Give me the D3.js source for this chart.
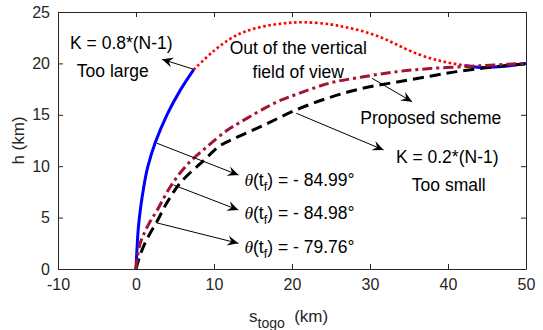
<!DOCTYPE html>
<html>
<head>
<meta charset="utf-8">
<script src="https://cdn.jsdelivr.net/npm/d3@7"></script>
<style>
  body { margin: 0; background: #fff; }
  text { font-family: "Liberation Sans", Arial, sans-serif; }
</style>
</head>
<body>
<svg id="chart" width="543" height="330"></svg>
<script>
// K = 0.8*(N-1) trajectory (s in km, h in km)
const largeS = [0, 0.1, 0.3, 0.6, 1.0, 1.5, 2.47, 3.97, 5.68, 7.4, 9.95, 12.1, 14, 16.4, 19, 21.5, 24.9, 27, 29.2, 31.5, 33.5, 35.5, 37.7, 39, 40.5, 42.2, 43.5, 44.6, 46, 47.6, 50];
const largeH = [0, 1.6, 4.0, 6.0, 8.0, 9.9, 12.3, 15.0, 17.4, 19.4, 21.2, 22.4, 23.1, 23.6, 23.9, 24.0, 23.8, 23.5, 23.1, 22.5, 21.8, 21.1, 20.5, 20.25, 20.0, 19.8, 19.65, 19.6, 19.65, 19.75, 20.0];
// part of the K = 0.8 trajectory that leaves the field of view
const fovStart = 7.4;
const fovEnd = 42.2;

// proposed scheme
const propS = [0, 0.15, 0.5, 1.0, 1.8, 2.7, 4.4, 6.5, 9.1, 11.7, 13.2, 16.4, 18.5, 20.6, 24.9, 29.2, 33.5, 37.7, 42.4, 46, 50];
const propH = [0, 1.0, 2.4, 3.4, 4.6, 5.7, 8.0, 10.1, 11.9, 13.5, 14.2, 15.6, 16.4, 17.0, 18.1, 18.7, 19.2, 19.5, 19.7, 19.85, 20.0];

// K = 0.2*(N-1)
const smallS = [0, 0.3, 0.6, 1.2, 1.9, 2.6, 4.0, 5.7, 8.6, 10.8, 13.2, 16.4, 20.6, 24.9, 29.2, 33.5, 37.7, 41.1, 44.6, 47.5, 50];
const smallH = [0, 0.8, 1.5, 2.6, 3.6, 4.5, 6.5, 8.4, 10.5, 12.0, 12.9, 14.0, 15.5, 16.7, 17.6, 18.2, 18.75, 19.2, 19.55, 19.8, 19.95];

const xTicks = [-10, 0, 10, 20, 30, 40, 50];
const yTicks = [0, 5, 10, 15, 20, 25];

// arrows [s0, h0, s1, h1]
const arrows = [
  [7.38, 19.43, 3.33, 20.4],
  [2.69, 12.23, 13.15, 9.14],
  [4.82, 8.17, 13.12, 5.74],
  [2.6, 4.5, 13.12, 2.5],
  [30.26, 18.55, 35.4, 16.27],
  [20.55, 15.15, 31.74, 11.58]
];
// plain labels [text, s, h(center)]
const labels = [
  ["K = 0.8*(N-1)", -1.88, 22.0],
  ["Too large", -2.97, 19.26],
  ["Out of the vertical", 20.8, 21.5],
  ["field of view", 20.8, 19.16],
  ["Proposed scheme", 37.8, 14.69],
  ["K = 0.2*(N-1)", 39.9, 10.92],
  ["Too small", 40.1, 8.17]
];
// terminal angle labels
const angleVals = ["- 84.99°", "- 84.98°", "- 79.76°"];
const angleH = [8.66, 5.42, 2.17];
const angleS = 13.9;

const W = 543, H = 330;
const margin = { left: 58, right: 17, top: 12, bottom: 61 };
const svg = d3.select("#chart");

const x = d3.scaleLinear().domain([-10, 50]).range([margin.left, W - margin.right]);
const y = d3.scaleLinear().domain([0, 25]).range([H - margin.bottom, margin.top]);

const axisColor = "#262626";
const tickLen = 5;
const plain = d => String(d); // keep "-" instead of the unicode minus

// axes box with inward ticks
svg.append("g")
  .attr("transform", `translate(0,${y(0)})`)
  .call(d3.axisBottom(x).tickValues(xTicks).tickSizeInner(-tickLen).tickSizeOuter(0).tickPadding(10).tickFormat(plain));
svg.append("g")
  .attr("transform", `translate(${x(-10)},0)`)
  .call(d3.axisLeft(y).tickValues(yTicks).tickSizeInner(-tickLen).tickSizeOuter(0).tickPadding(8).tickFormat(plain));
svg.append("g")
  .attr("transform", `translate(0,${y(25)})`)
  .call(d3.axisTop(x).tickValues(xTicks).tickSizeInner(-tickLen).tickSizeOuter(0).tickFormat(""));
svg.append("g")
  .attr("transform", `translate(${x(50)},0)`)
  .call(d3.axisRight(y).tickValues(yTicks).tickSizeInner(-tickLen).tickSizeOuter(0).tickFormat(""));

svg.selectAll(".domain").attr("stroke", axisColor).attr("stroke-width", 1);
svg.selectAll(".tick line").attr("stroke", axisColor);
svg.selectAll(".tick text")
  .attr("fill", axisColor)
  .style("font-size", "16px")
  .style("font-family", '"Liberation Sans", Arial, sans-serif');

// axis titles
svg.append("text")
  .attr("transform", `translate(24,${(y(0) + y(25)) / 2}) rotate(-90)`)
  .attr("text-anchor", "middle")
  .style("font-size", "17px")
  .attr("fill", axisColor)
  .text("h (km)");

let xl = svg.append("text")
  .attr("x", 249)
  .attr("y", 322)
  .style("font-size", "17px")
  .attr("fill", axisColor);
xl.append("tspan").text("s");
xl.append("tspan").attr("dy", 6).style("font-size", "14px").text("togo");
xl.append("tspan").attr("dy", -6).text("\u00a0\u00a0(km)");

// curves
const line = d3.line().x(d => x(d[0])).y(d => y(d[1])).curve(d3.curveCatmullRom.alpha(0.5));
const largePts = largeS.map((s, i) => [s, largeH[i]]);

svg.append("path")
  .datum(largePts.filter(d => d[0] <= fovStart))
  .attr("d", line)
  .attr("fill", "none").attr("stroke", "#0000ff").attr("stroke-width", 3);
svg.append("path")
  .datum(largePts.filter(d => d[0] >= fovEnd))
  .attr("d", line)
  .attr("fill", "none").attr("stroke", "#0000ff").attr("stroke-width", 3);
svg.append("path")
  .datum(largePts.filter(d => d[0] >= fovStart && d[0] <= fovEnd))
  .attr("d", line)
  .attr("fill", "none").attr("stroke", "#ff0000").attr("stroke-width", 2.6)
  .attr("stroke-dasharray", "2.6,2.6");

svg.append("path")
  .datum(smallS.map((s, i) => [s, smallH[i]]))
  .attr("d", line)
  .attr("fill", "none").attr("stroke", "#000").attr("stroke-width", 3)
  .attr("stroke-dasharray", "11,6");

svg.append("path")
  .datum(propS.map((s, i) => [s, propH[i]]))
  .attr("d", line)
  .attr("fill", "none").attr("stroke", "#a2142f").attr("stroke-width", 3)
  .attr("stroke-dasharray", "10,4,3,4");

// arrowheads
svg.append("defs").append("marker")
  .attr("id", "head")
  .attr("viewBox", "-12 -6 14 12")
  .attr("refX", 0).attr("refY", 0)
  .attr("markerWidth", 14).attr("markerHeight", 12)
  .attr("markerUnits", "userSpaceOnUse")
  .attr("orient", "auto")
  .append("path")
  .attr("d", "M0,0 L-11,-5 L-7,0 L-11,5 Z")
  .attr("fill", "#000");

svg.selectAll(".arrow")
  .data(arrows)
  .join("line")
  .attr("class", "arrow")
  .attr("x1", d => x(d[0])).attr("y1", d => y(d[1]))
  .attr("x2", d => x(d[2])).attr("y2", d => y(d[3]))
  .attr("stroke", "#000").attr("stroke-width", 1)
  .attr("marker-end", "url(#head)");

// labels
svg.selectAll(".lab")
  .data(labels)
  .join("text")
  .attr("class", "lab")
  .attr("x", d => x(d[1]))
  .attr("y", d => y(d[2]) + 6)
  .attr("text-anchor", "middle")
  .style("font-size", "17.5px")
  .attr("fill", "#000")
  .text(d => d[0]);

angleVals.forEach(function (v, i) {
  let t = svg.append("text")
    .attr("x", x(angleS))
    .attr("y", y(angleH[i]) + 6)
    .style("font-size", "17.5px")
    .attr("fill", "#000");
  t.append("tspan").style("font-family", '"Liberation Serif", "Times New Roman", serif')
    .style("font-style", "italic").text("\u03b8");
  t.append("tspan").text("(t");
  t.append("tspan").attr("dy", 5).style("font-size", "12.5px").text("f");
  t.append("tspan").attr("dy", -5).text(") = " + v);
});
</script>
</body>
</html>
